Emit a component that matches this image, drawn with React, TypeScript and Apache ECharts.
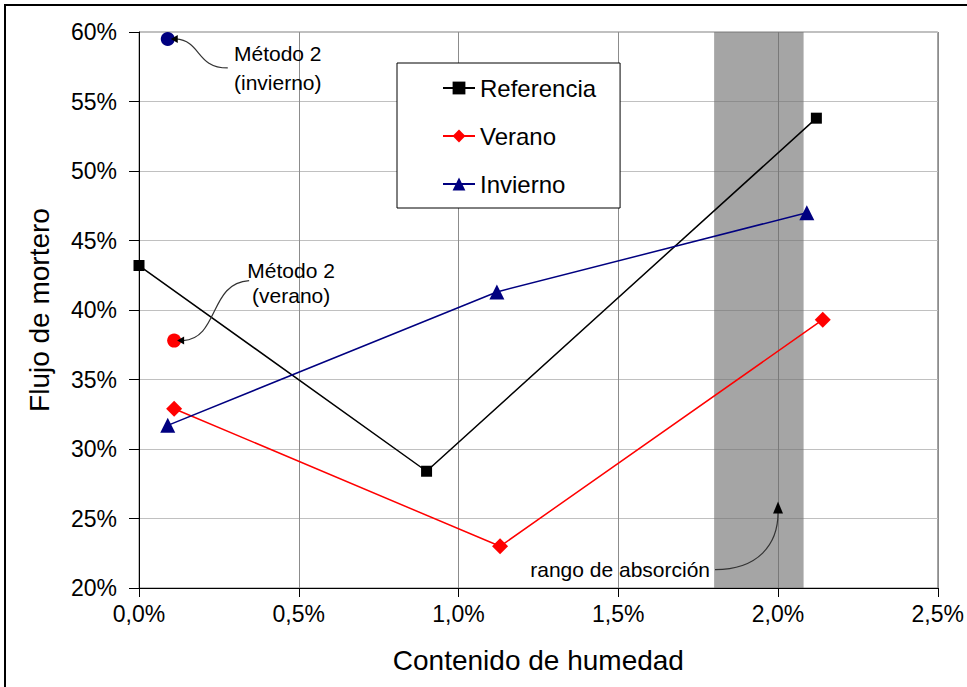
import React, { useEffect, useRef } from "react";
import * as echarts from "echarts";

const xTickValues = [0, 0.5, 1.0, 1.5, 2.0, 2.5];
const yTickValues = [20, 25, 30, 35, 40, 45, 50, 55, 60];

const referenciaX = [0.0, 0.9, 2.12];
const referenciaY = [43.2, 28.4, 53.8];
const veranoX = [0.11, 1.13, 2.14];
const veranoY = [32.9, 23.0, 39.3];
const inviernoX = [0.09, 1.12, 2.09];
const inviernoY = [31.7, 41.3, 47.0];

const metodo2Invierno = [0.09, 59.5];
const metodo2Verano = [0.11, 37.8];

const absorptionBand = [1.8, 2.08];
const absorptionArrowTarget = [2.0, 26.0];

const seriesNames = ["Referencia", "Verano", "Invierno"];
const annotationTexts = ["Método 2\n(invierno)", "Método 2\n(verano)", "rango de absorción"];

const FONT = "'Liberation Sans', Arial, sans-serif";

function zip(xs: number[], ys: number[]) {
  return xs.map((x, i) => [x, ys[i]]);
}

export default function App() {
  const ref = useRef<HTMLDivElement>(null);

  useEffect(() => {
    if (!ref.current) return;
    const chart = echarts.init(ref.current, null, { renderer: "svg" });
    chart.setOption({
      animation: false,
      backgroundColor: "#ffffff",
      grid: {
        left: 139,
        top: 32,
        width: 799,
        height: 556,
        show: true,
        borderColor: "#808080",
        borderWidth: 1,
        backgroundColor: "transparent",
      },
      legend: {
        orient: "vertical",
        left: 397,
        top: 63,
        width: 223,
        padding: [13, 24, 12, 45],
        itemGap: 24,
        itemWidth: 32,
        itemHeight: 16,
        backgroundColor: "#ffffff",
        borderColor: "#000000",
        borderWidth: 1,
        borderRadius: 0,
        data: seriesNames,
        textStyle: { fontFamily: FONT, fontSize: 24, color: "#000000" },
      },
      xAxis: {
        type: "value",
        min: 0,
        max: 2.5,
        interval: 0.5,
        name: "Contenido de humedad",
        nameLocation: "middle",
        nameGap: 58,
        nameTextStyle: { fontFamily: FONT, fontSize: 28, color: "#000000" },
        axisLine: { show: true, onZero: false, lineStyle: { color: "#000000", width: 1 } },
        axisTick: { show: true, inside: false, length: 9, lineStyle: { color: "#000000" } },
        axisLabel: {
          margin: 14,
          fontFamily: FONT,
          fontSize: 23,
          color: "#000000",
          formatter: (v: number) => v.toFixed(1).replace(".", ",") + "%",
        },
        splitLine: { show: true, lineStyle: { color: "#8c8c8c", width: 1 } },
      },
      yAxis: {
        type: "value",
        min: 20,
        max: 60,
        interval: 5,
        name: "Flujo de mortero",
        nameLocation: "middle",
        nameGap: 86,
        nameTextStyle: { fontFamily: FONT, fontSize: 28, color: "#000000" },
        axisLine: { show: true, onZero: false, lineStyle: { color: "#000000", width: 1 } },
        axisTick: { show: true, inside: false, length: 10, lineStyle: { color: "#000000" } },
        axisLabel: {
          margin: 22,
          fontFamily: FONT,
          fontSize: 23,
          color: "#000000",
          formatter: (v: number) => v + "%",
        },
        splitLine: { show: true, lineStyle: { color: "#c0c0c0", width: 1 } },
      },
      series: [
        {
          name: "Referencia",
          type: "line",
          data: zip(referenciaX, referenciaY),
          symbol: "rect",
          symbolSize: 11,
          lineStyle: { color: "#000000", width: 1.5 },
          itemStyle: { color: "#000000" },
          z: 5,
          markArea: {
            silent: true,
            itemStyle: { color: "rgba(110,110,110,0.62)" },
            data: [[{ xAxis: absorptionBand[0] }, { xAxis: absorptionBand[1] }]],
          },
        },
        {
          name: "Verano",
          type: "line",
          data: zip(veranoX, veranoY),
          symbol: "diamond",
          symbolSize: 16,
          lineStyle: { color: "#ff0000", width: 1.5 },
          itemStyle: { color: "#ff0000" },
          z: 5,
        },
        {
          name: "Invierno",
          type: "line",
          data: zip(inviernoX, inviernoY),
          symbol: "triangle",
          symbolSize: 15,
          lineStyle: { color: "#000080", width: 1.5 },
          itemStyle: { color: "#000080" },
          z: 5,
        },
        {
          name: "Método 2 (invierno)",
          type: "scatter",
          data: [metodo2Invierno],
          symbol: "circle",
          symbolSize: 14,
          itemStyle: { color: "#000080", opacity: 1 },
          z: 6,
        },
        {
          name: "Método 2 (verano)",
          type: "scatter",
          data: [metodo2Verano],
          symbol: "circle",
          symbolSize: 14,
          itemStyle: { color: "#ff0000", opacity: 1 },
          z: 6,
        },
      ],
    });

    const pI = chart.convertToPixel({ gridIndex: 0 }, metodo2Invierno) as number[];
    const pV = chart.convertToPixel({ gridIndex: 0 }, metodo2Verano) as number[];
    const pA = chart.convertToPixel({ gridIndex: 0 }, absorptionArrowTarget) as number[];

    const curveStyle = { stroke: "#333333", lineWidth: 1.2, fill: "none" };
    const headStyle = { fill: "#000000" };
    const textStyleBase = { fontFamily: FONT, fontSize: 21, fill: "#000000" };

    const graphic: any[] = [
      {
        type: "rect",
        shape: { x: 5, y: 5, width: 1000, height: 800 },
        style: { fill: "none", stroke: "#000000", lineWidth: 2 },
        silent: true,
        z: 100,
      },
      // invierno annotation
      {
        type: "bezierCurve",
        shape: {
          x1: pI[0] + 60, y1: pI[1] + 29,
          cpx1: pI[0] + 28, cpy1: pI[1] + 29,
          cpx2: pI[0] + 34, cpy2: pI[1] + 2,
          x2: pI[0] + 8, y2: pI[1],
        },
        style: curveStyle,
        z: 50,
      },
      {
        type: "polygon",
        shape: { points: [[pI[0] + 3, pI[1]], [pI[0] + 10, pI[1] - 4], [pI[0] + 10, pI[1] + 4]] },
        style: headStyle,
        z: 51,
      },
      {
        type: "text",
        x: pI[0] + 110,
        y: pI[1] + 29,
        style: {
          ...textStyleBase,
          text: annotationTexts[0],
          align: "center",
          verticalAlign: "middle",
          lineHeight: 29,
        },
        z: 50,
      },
      // verano annotation
      {
        type: "bezierCurve",
        shape: {
          x1: pV[0] + 75, y1: pV[1] - 60,
          cpx1: pV[0] + 35, cpy1: pV[1] - 58,
          cpx2: pV[0] + 45, cpy2: pV[1] - 2,
          x2: pV[0] + 9, y2: pV[1],
        },
        style: curveStyle,
        z: 50,
      },
      {
        type: "polygon",
        shape: { points: [[pV[0] + 3, pV[1]], [pV[0] + 10, pV[1] - 4], [pV[0] + 10, pV[1] + 4]] },
        style: headStyle,
        z: 51,
      },
      {
        type: "text",
        x: pV[0] + 117,
        y: pV[1] - 58,
        style: {
          ...textStyleBase,
          text: annotationTexts[1],
          align: "center",
          verticalAlign: "middle",
          lineHeight: 25,
        },
        z: 50,
      },
      // absorcion annotation
      {
        type: "bezierCurve",
        shape: {
          x1: pA[0] - 63, y1: pA[1] + 65,
          cpx1: pA[0] - 20, cpy1: pA[1] + 65,
          cpx2: pA[0], cpy2: pA[1] + 40,
          x2: pA[0], y2: pA[1] + 8,
        },
        style: curveStyle,
        z: 50,
      },
      {
        type: "polygon",
        shape: { points: [[pA[0], pA[1] - 3], [pA[0] - 5, pA[1] + 9], [pA[0] + 5, pA[1] + 9]] },
        style: headStyle,
        z: 51,
      },
      {
        type: "text",
        x: pA[0] - 68,
        y: pA[1] + 65,
        style: {
          ...textStyleBase,
          text: annotationTexts[2],
          align: "right",
          verticalAlign: "middle",
        },
        z: 50,
      },
    ];
    chart.setOption({ graphic });

    return () => chart.dispose();
  }, []);

  return (
    <div
      ref={ref}
      style={{ position: "absolute", left: 0, top: 0, width: 967, height: 687, background: "#ffffff" }}
    />
  );
}
